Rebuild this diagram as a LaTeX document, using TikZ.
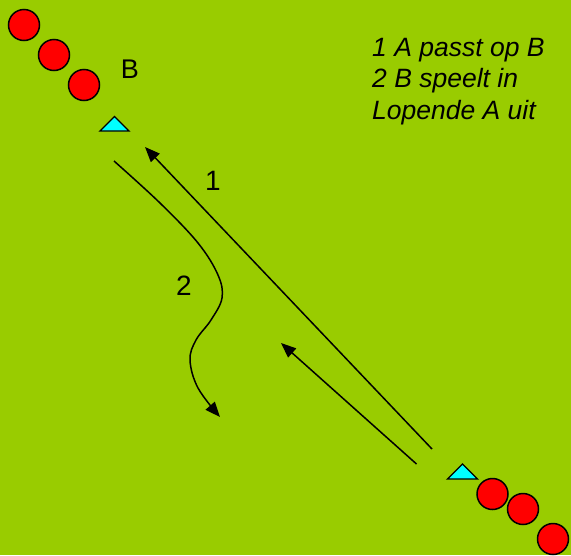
\documentclass[tikz,border=0pt]{standalone}
\usepackage{fontspec}
\setmainfont{Liberation Sans}
\usetikzlibrary{arrows.meta}
\definecolor{field}{HTML}{99CC00}
\definecolor{cone}{HTML}{00FFFF}
\begin{document}
\begin{tikzpicture}[x=1pt,y=-1pt,
  player/.style={circle,draw=black,line width=1.5pt,fill=red,minimum size=31pt,inner sep=0pt},
  conemark/.style={draw=black,line width=1.3pt,fill=cone,line join=miter},
  run/.style={line width=1.5pt,-{Triangle[length=15pt,width=12pt]}},
  lbl/.style={inner sep=0pt,font=\fontsize{28}{30}\selectfont},
  note/.style={inner sep=0pt,anchor=base west,font=\fontsize{26.5}{32}\selectfont\itshape}]
\fill[field] (0,0) rectangle (571,555);
\useasboundingbox (0,0) rectangle (571,555);
% players top
\node[player] (p1) at (24,25) {};
\node[player] (p2) at (54,55) {};
\node[player] (p3) at (84,85) {};
% players bottom
\node[player] (p4) at (492.5,494) {};
\node[player] (p5) at (523,509) {};
\node[player] (p6) at (553,539) {};
% cones
\draw[conemark] (100,131) -- (114.5,116.5) -- (129,131) -- cycle;
\draw[conemark] (447.5,479) -- (462.5,464) -- (477.5,479) -- cycle;
% labels
\node[lbl,font=\fontsize{27}{30}\selectfont] (lb) at (130,69.5) {B};
\node[lbl] (l1) at (213,181) {1};
\node[lbl] (l2) at (184,286) {2};
\node[note] (n1) at (372,56) {1 A passt op B};
\node[note] (n2) at (372,87.5) {2 B speelt in};
\node[note] (n3) at (372,119) {Lopende A uit};
% arrows
\coordinate (a1s) at (432,449);
\coordinate (a1e) at (145,147);
\coordinate (a3s) at (416.5,464);
\coordinate (a3e) at (281,343);
\draw[run] (a1s) -- (a1e);
\draw[run] (a3s) -- (a3e);
\draw[run] plot[smooth,tension=0.6] coordinates {(114,161) (160,203) (198,243) (218,275) (222,298) (211,320) (196,340) (190,360) (198,388) (220,417)};
\end{tikzpicture}
\end{document}
